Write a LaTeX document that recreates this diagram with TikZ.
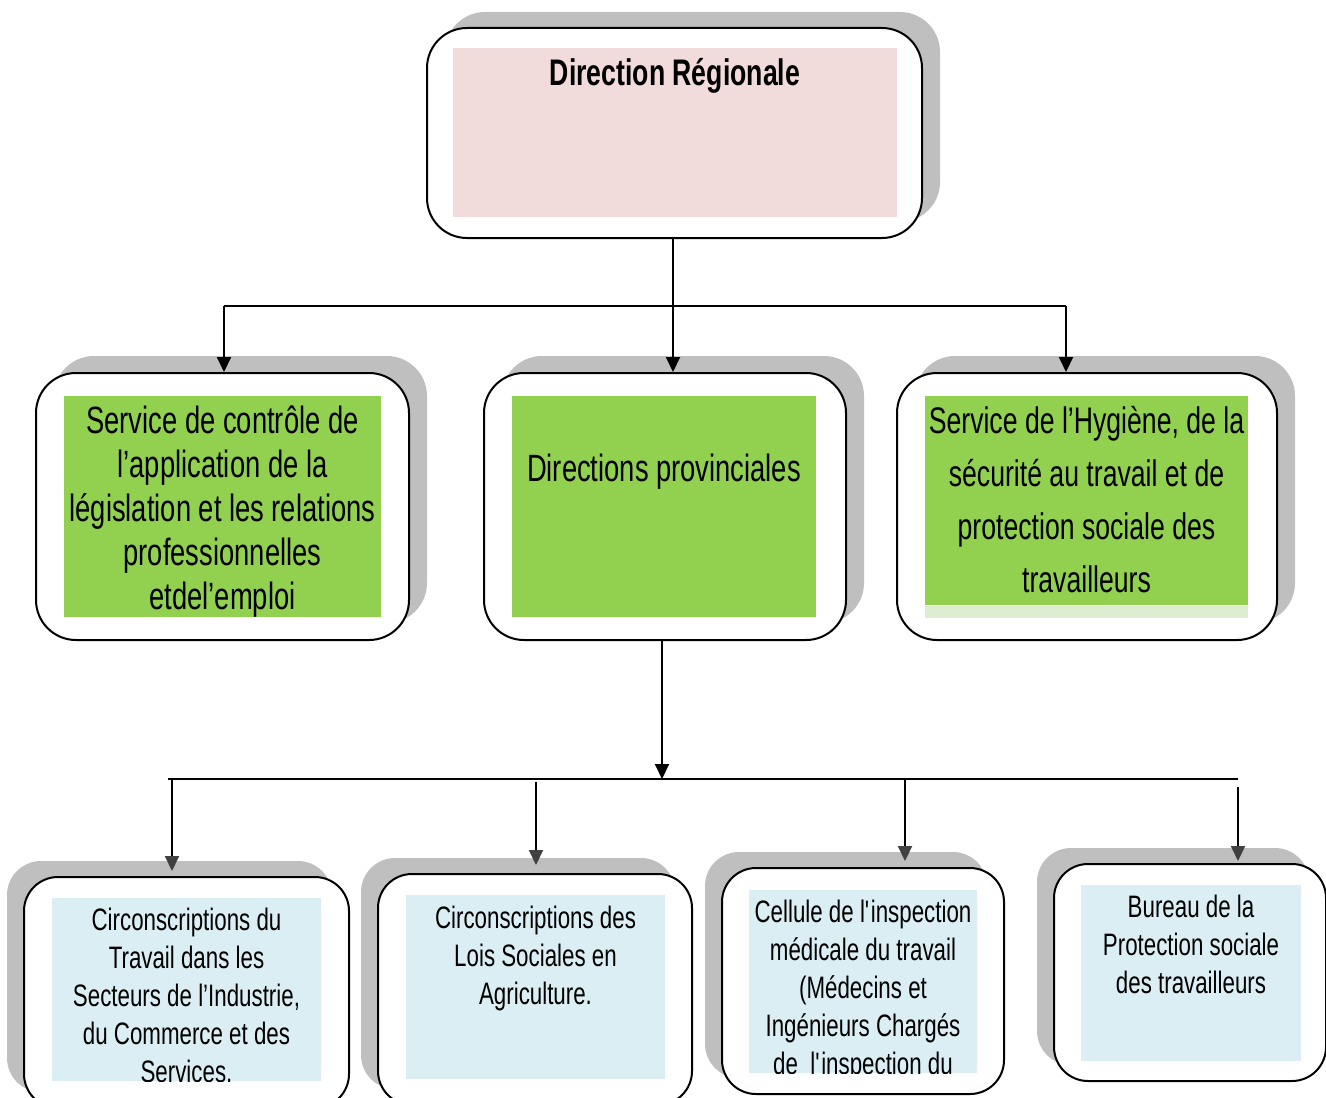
\documentclass[tikz,border=0pt]{standalone}
\usepackage{fontspec}
\setmainfont[FakeStretch=0.72]{Liberation Sans}
\usetikzlibrary{%
  positioning
 ,arrows.meta
 ,calc
}
\definecolor{shadegray}{HTML}{BFBFBF}
\definecolor{pinkbg}{HTML}{F2DCDB}
\definecolor{greenbg}{HTML}{92D050}
\definecolor{greenlt}{HTML}{DCEDD0}
\definecolor{bluebg}{HTML}{DAEEF3}
\definecolor{tipgray}{HTML}{404040}
\tikzstyle{frame}=[draw=black,line width=1pt,fill=white,rounded corners=20pt,inner sep=0pt]
\tikzstyle{shade}=[fill=shadegray,rounded corners=20pt,inner sep=0pt]
\tikzstyle{sframe}=[frame,rounded corners=17pt]
\tikzstyle{sshade}=[shade,rounded corners=17pt]
\tikzstyle{panel}=[inner sep=0pt,draw=none]
\tikzstyle{title}=[inner sep=0pt,font=\bfseries\fontsize{18.5}{22}\selectfont]
\tikzstyle{big}=[inner sep=0pt,align=center,font=\fontsize{19}{22}\selectfont]
\tikzstyle{small}=[inner sep=0pt,align=center,font=\fontsize{15.5}{19}\selectfont]
\tikzstyle{wire}=[line width=1pt]
\tikzstyle{link}=[line width=1pt,-{Triangle[length=7.5pt,width=7pt]}]
\tikzstyle{sublink}=[line width=1pt,-{Triangle[length=7.5pt,width=7pt,color=tipgray]}]

\begin{document}
\begin{tikzpicture}[x=0.5pt,y=-0.5pt]
  \useasboundingbox (0,0) rectangle (1326,1097);
  \clip (0,0) rectangle (1326,1097);
  % top level
  \node[shade,minimum width=247.5pt,minimum height=105pt] (dr-sh) at (692.5,117) {};
  \node[frame,minimum width=247.5pt,minimum height=105pt] (dr) at (674.5,133) {};
  \node[panel,fill=pinkbg,minimum width=222pt,minimum height=84.5pt] (dr-in) at (675,132.5) {};
  \node[title,anchor=base] (dr-txt) at (675,86) {Direction Régionale};

  % second level
  \node[shade,minimum width=186.5pt,minimum height=133.5pt] (svc-sh) at (240.5,489.5) {};
  \node[shade,minimum width=181pt,minimum height=133.5pt] (dp-sh) at (683,489.5) {};
  \node[shade,minimum width=190pt,minimum height=133.5pt] (hyg-sh) at (1105,489.5) {};
  \node[frame,minimum width=186.5pt,minimum height=133.5pt] (svc) at (222.5,506.5) {};
  \node[frame,minimum width=181pt,minimum height=133.5pt] (dp) at (665,506.5) {};
  \node[frame,minimum width=190pt,minimum height=133.5pt] (hyg) at (1087,506.5) {};
  \node[panel,fill=greenbg,minimum width=158.5pt,minimum height=110.5pt] (svc-in) at (222.5,506.5) {};
  \node[panel,fill=greenbg,minimum width=152pt,minimum height=110.5pt] (dp-in) at (664,506.5) {};
  \node[panel,fill=greenbg,minimum width=161.5pt,minimum height=104.5pt] (hyg-in) at (1086.5,500.5) {};
  \node[panel,fill=greenlt,minimum width=161.5pt,minimum height=6pt,below=0pt of hyg-in] (hyg-strip) {};
  % base = last line
  \node[big,anchor=base] (svc-txt) at (222.5,609) {Service de contrôle de\\ l’application de la\\ législation et les relations\\ professionnelles\\ etdel’emploi};
  \node[big,anchor=base] (dp-txt) at (664,481) {Directions provinciales};
  \node[big,anchor=base,font=\fontsize{18.5}{26.5}\selectfont] (hyg-txt) at (1086.5,592) {Service de l’Hygiène, de la\\ sécurité au travail et de\\ protection sociale des\\ travailleurs};

  % third level
  \node[sshade,minimum width=162.5pt,minimum height=115.5pt] (circ-sh) at (169.5,976.5) {};
  \node[sshade,minimum width=157pt,minimum height=115.5pt] (lois-sh) at (518,973.5) {};
  \node[sshade,minimum width=141pt,minimum height=113pt] (cell-sh) at (846,965) {};
  \node[sshade,minimum width=136pt,minimum height=108.5pt] (bur-sh) at (1173,956.5) {};
  \node[sframe,minimum width=162.5pt,minimum height=115.5pt] (circ) at (186.5,992.5) {};
  \node[sframe,minimum width=157pt,minimum height=115.5pt] (lois) at (535,989.5) {};
  \node[sframe,minimum width=141pt,minimum height=113pt] (cell) at (863,981) {};
  \node[sframe,minimum width=136pt,minimum height=108.5pt] (bur) at (1190,972.5) {};
  \node[panel,fill=bluebg,minimum width=134.5pt,minimum height=91.5pt] (circ-in) at (186.5,989.5) {};
  \node[panel,fill=bluebg,minimum width=129.5pt,minimum height=92pt] (lois-in) at (535.5,987) {};
  \node[panel,fill=bluebg,minimum width=114pt,minimum height=91.5pt] (cell-in) at (863,981.5) {};
  \node[panel,fill=bluebg,minimum width=110pt,minimum height=88pt] (bur-in) at (1191,973) {};
  \begin{scope}
    \clip (circ-in.south west) rectangle (circ-in.north east);
    \node[small,anchor=base] (circ-txt) at (186.5,1082) {Circonscriptions du\\ Travail dans les\\ Secteurs de l’Industrie,\\ du Commerce et des\\ Services.};
  \end{scope}
  \node[small,anchor=base] (lois-txt) at (535.5,1004) {Circonscriptions des\\ Lois Sociales en\\ Agriculture.};
  \begin{scope}
    \clip (cell-in.south west) rectangle (cell-in.north east);
    \node[small,anchor=base] (cell-txt) at (863,1074) {Cellule de l\textquotesingle inspection\\ médicale du travail\\ (Médecins et\\ Ingénieurs Chargés\\ de~ l\textquotesingle inspection du};
  \end{scope}
  \node[small,anchor=base] (bur-txt) at (1191,993) {Bureau de la\\ Protection sociale\\ des travailleurs};

  % connectors
  \coordinate (j1) at (673,306);
  \coordinate (j1l) at (224,306);
  \coordinate (j1r) at (1066,306);
  \draw[wire] (j1 |- dr.south) -- (j1);
  \draw[wire] (j1l) -- (j1r);
  \draw[link] (j1l) -- (j1l |- svc.north);
  \draw[link] (j1) -- (j1 |- dp.north);
  \draw[link] (j1r) -- (j1r |- hyg.north);

  \coordinate (j2) at (662,779);
  \coordinate (j2l) at (168,779);
  \coordinate (j2r) at (1238,779);
  \draw[link] (j2 |- dp.south) -- (j2);
  \draw[wire] (j2l) -- (j2r);
  \coordinate (k1) at (172,779);
  \coordinate (k2) at (536,782);
  \coordinate (k3) at (905,779);
  \coordinate (k4) at (1238,787);
  \draw[sublink,shorten >=2.5pt] (k1) -- (k1 |- circ.north);
  \draw[sublink,shorten >=4pt] (k2) -- (k2 |- lois.north);
  \draw[sublink,shorten >=3pt] (k3) -- (k3 |- cell.north);
  \draw[sublink,shorten >=1pt] (k4) -- (k4 |- bur.north);
\end{tikzpicture}
\end{document}
